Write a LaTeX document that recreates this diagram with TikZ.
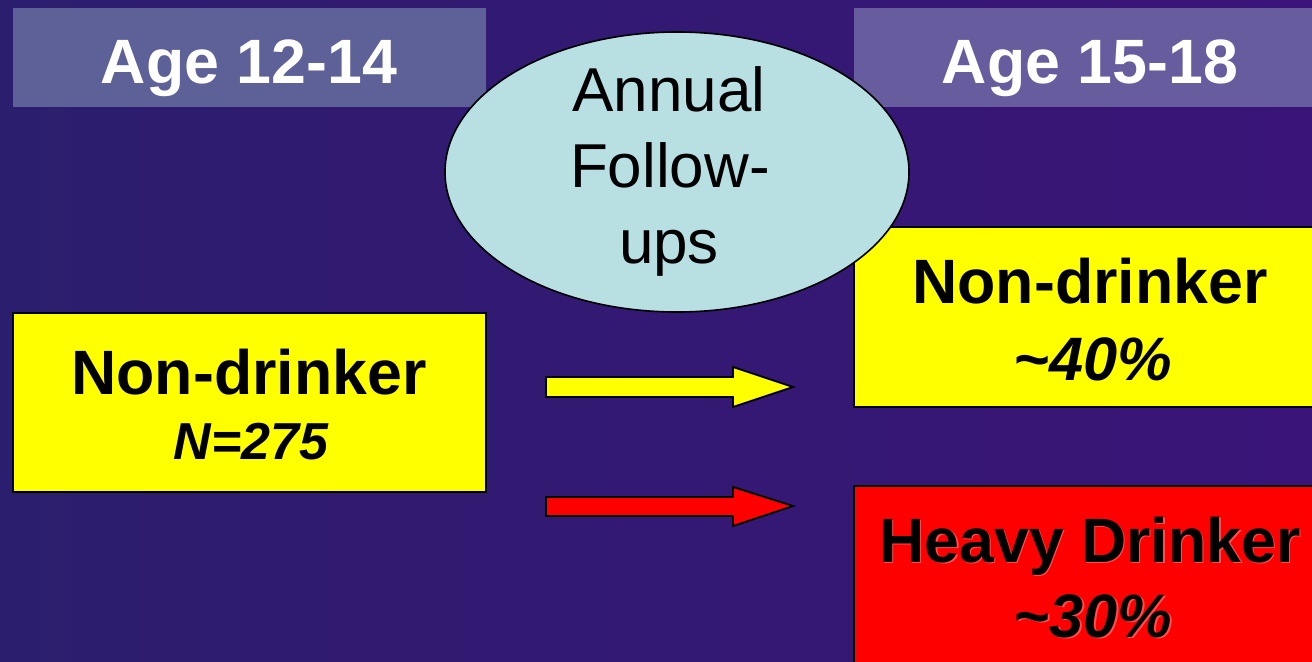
\documentclass[tikz,border=0pt]{standalone}
\usepackage{fontspec}
\setmainfont{Liberation Sans}
\usetikzlibrary{shapes.geometric}
\definecolor{bgL}{RGB}{44,30,110}
\definecolor{bgR}{RGB}{58,20,120}
\definecolor{hdrL}{RGB}{94,97,151}
\definecolor{hdrR}{RGB}{102,92,158}
\definecolor{ellfill}{RGB}{184,224,227}
\definecolor{pureyellow}{RGB}{255,255,0}
\definecolor{purered}{RGB}{255,0,0}
\definecolor{glow}{RGB}{255,110,110}
\tikzset{
  hdrbox/.style={draw=none, inner sep=0pt, minimum height=74.25pt},
  valbox/.style={draw=black, line width=1.5pt, inner sep=0pt},
  hdrtext/.style={text=white, font=\fontsize{47}{56}\selectfont\bfseries, anchor=base, inner sep=0pt},
  boxtext/.style={text=black, font=\fontsize{47}{56}\selectfont\bfseries, anchor=base, inner sep=0pt},
  numtext/.style={text=black, font=\fontsize{46}{55}\selectfont\bfseries\itshape, anchor=base, inner sep=0pt},
  elltext/.style={text=black, font=\fontsize{46.5}{57}\selectfont, anchor=base, inner sep=0pt},
  blockarrow/.style={draw=black, line width=1.4pt, line join=miter}
}
\begin{document}
\begin{tikzpicture}[x=0.75pt,y=-0.75pt]
\useasboundingbox (0,0) rectangle (1312,661);
\clip (0,0) rectangle (1312,661);
\shade[left color=bgL, right color=bgR] (0,0) rectangle (1312,661);

% header boxes
\node[hdrbox, fill=hdrL, minimum width=354.75pt] (hl) at (249.5,57.5) {};
\node[hdrbox, fill=hdrR, minimum width=357pt] (hr) at (1092,57.5) {};
\node[hdrtext] (hlt) at (249,83) {Age 12-14};
\node[hdrtext] (hrt) at (1090,83) {Age 15-18};

% value boxes
\node[valbox, fill=pureyellow, minimum width=354.75pt, minimum height=134.25pt] (left) at (249.5,402) {};
\node[valbox, fill=pureyellow, minimum width=354pt, minimum height=135pt] (ry) at (1090,317) {};
\node[valbox, fill=purered, minimum width=354pt, minimum height=150pt] (rr) at (1090,586) {};

\node[boxtext] (lt1) at (249,394) {Non-drinker};
\node[font=\fontsize{39}{47}\selectfont\bfseries\itshape, anchor=base, inner sep=0pt] (lt2) at (251,459) {N=275};

\node[boxtext] (ryt1) at (1090,303) {Non-drinker};
\node[numtext] (ryt2) at (1093,380) {\char"7E 40\%};

\node[boxtext, text=glow, opacity=0.7] (rrg1) at (1091.5,563.5) {Heavy Drinker};
\node[boxtext] (rrt1) at (1090,562) {Heavy Drinker};
\node[numtext, text=glow, opacity=0.7] (rrg2) at (1094.5,638.5) {\char"7E 30\%};
\node[numtext] (rrt2) at (1093,637) {\char"7E 30\%};

% arrows
\draw[blockarrow, fill=pureyellow] (546,377) -- (733,377) -- (733,367) -- (793,387) -- (733,407) -- (733,397) -- (546,397) -- cycle;
\draw[blockarrow, fill=purered] (546,497) -- (733,497) -- (733,487) -- (793,506) -- (733,526) -- (733,516) -- (546,516) -- cycle;

% ellipse
\node[ellipse, draw=black, line width=1.2pt, fill=ellfill, minimum width=348pt, minimum height=210pt, inner sep=0pt] (ell) at (677,172) {};
\node[elltext] (e1) at (669,111) {Annual};
\node[elltext] (e2) at (670,187) {Follow-};
\node[elltext] (e3) at (669,263) {ups};
\end{tikzpicture}
\end{document}
